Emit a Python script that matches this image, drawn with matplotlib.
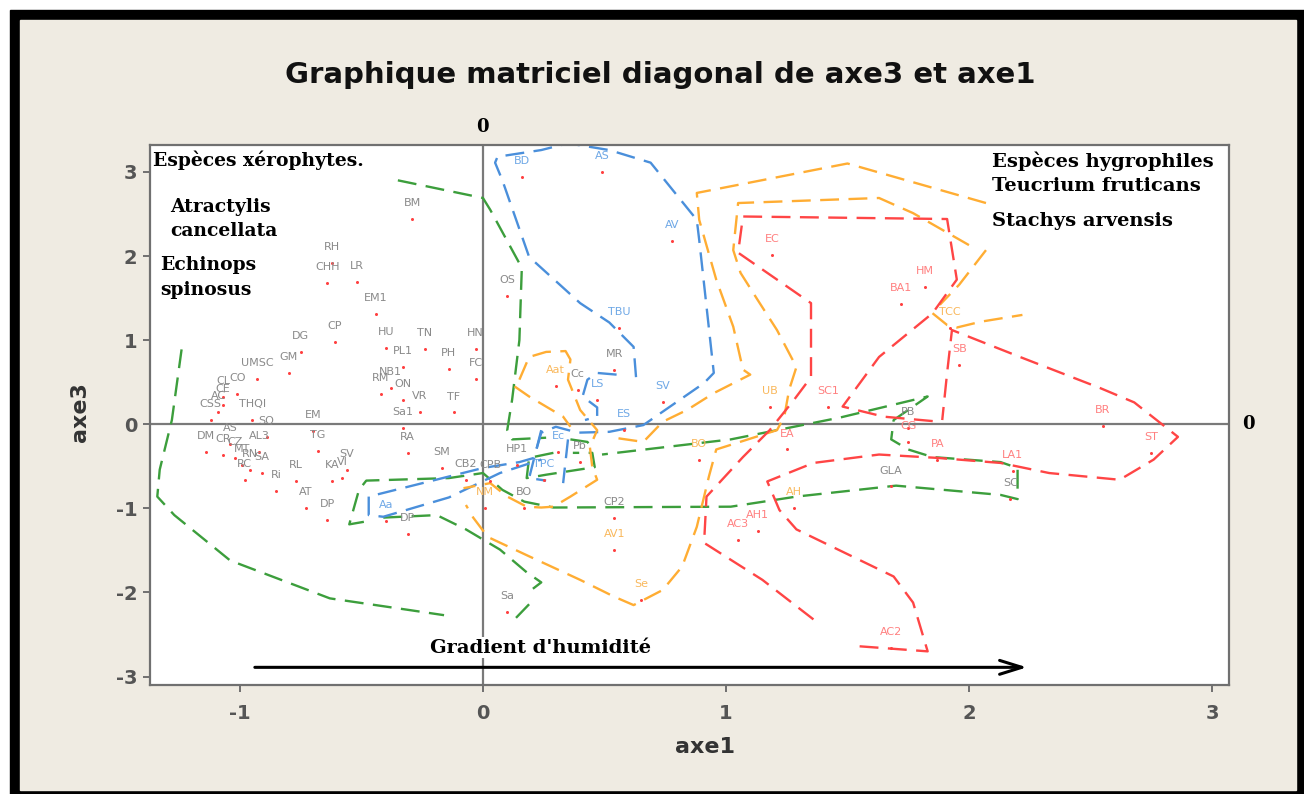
import matplotlib
matplotlib.use("Agg")
import matplotlib.pyplot as plt
from matplotlib.patches import Rectangle

plt.rcParams["axes.unicode_minus"] = False

# ---- points (axe1, axe3), one list per group ----
grey_lab = ["BM", "RH", "CHH", "LR", "EM1", "CP", "DG", "GM", "UMSC", "CO",
            "HU", "PL1", "TN", "HN", "PH", "FC", "NB1", "RM", "ON", "VR", "TF",
            "Sa1", "EM", "THQI", "TG", "SV", "KA", "VI", "RA", "SM", "CB2", "CPB",
            "RL", "Ri", "AT", "DP", "DP", "Sa", "OS", "MR", "Cc", "HP1", "Pb",
            "BO", "CP2", "GLA", "SC", "PB", "AL3", "SQ",
            "CL", "CE", "AC", "CSS", "DM", "CR", "CZ", "MT", "RN", "SA", "RC", "AS"]
grey_x = [-0.29, -0.62, -0.64, -0.52, -0.44, -0.61, -0.75, -0.80, -0.93, -1.01,
          -0.40, -0.33, -0.24, -0.03, -0.14, -0.03, -0.38, -0.42, -0.33, -0.26, -0.12,
          -0.33, -0.70, -0.95, -0.68, -0.56, -0.62, -0.58, -0.31, -0.17, -0.07, 0.03,
          -0.77, -0.85, -0.73, -0.64, -0.31, 0.10, 0.10, 0.54, 0.39, 0.14, 0.40,
          0.17, 0.54, 1.68, 2.17, 1.75, -0.92, -0.89,
          -1.07, -1.07, -1.09, -1.12, -1.14, -1.07, -1.02, -0.99, -0.96, -0.91, -0.98, -1.04]
grey_y = [2.44, 1.92, 1.68, 1.69, 1.31, 0.98, 0.86, 0.61, 0.54, 0.36,
          0.91, 0.68, 0.90, 0.90, 0.66, 0.54, 0.43, 0.36, 0.29, 0.15, 0.14,
          -0.04, -0.08, 0.05, -0.32, -0.54, -0.67, -0.64, -0.34, -0.52, -0.66, -0.68,
          -0.67, -0.79, -0.99, -1.14, -1.30, -2.23, 1.52, 0.65, 0.41, -0.49, -0.45,
          -1.00, -1.12, -0.74, -0.89, -0.04, -0.33, -0.15,
          0.32, 0.23, 0.15, 0.05, -0.33, -0.36, -0.40, -0.49, -0.54, -0.58, -0.66, -0.24]

blue_lab = ["BD", "AS", "AV", "TBU", "LS", "SV", "ES", "Ec", "TPC", "Aa"]
blue_x = [0.16, 0.49, 0.78, 0.56, 0.47, 0.74, 0.58, 0.31, 0.25, -0.40]
blue_y = [2.94, 3.00, 2.18, 1.15, 0.29, 0.26, -0.07, -0.33, -0.66, -1.15]

orange_lab = ["Aat", "NM", "BO", "AV1", "Se", "UB", "AH", "TCC"]
orange_x = [0.30, 0.01, 0.89, 0.54, 0.65, 1.18, 1.28, 1.92]
orange_y = [0.45, -1.00, -0.43, -1.50, -2.09, 0.20, -0.99, 1.15]

red_lab = ["EC", "HM", "BA1", "SB", "SC1", "EA", "CG", "PA", "AH1", "AC3",
           "AC2", "BR", "ST", "LA1"]
red_x = [1.19, 1.82, 1.72, 1.96, 1.42, 1.25, 1.75, 1.87, 1.13, 1.05,
         1.68, 2.55, 2.75, 2.18]
red_y = [2.01, 1.63, 1.43, 0.71, 0.20, -0.30, -0.21, -0.43, -1.27, -1.38,
         -2.66, -0.02, -0.34, -0.55]

# ---- hand drawn dashed outlines (axe1, axe3) ----
green_lines = [
    [(-1.24, 0.89), (-1.28, 0.05), (-1.33, -0.54), (-1.34, -0.86), (-1.27, -1.08),
     (-1.04, -1.62), (-0.63, -2.07), (-0.30, -2.21), (-0.16, -2.27)],
    [(-0.35, 2.90), (0.00, 2.69), (0.03, 2.55), (0.16, 1.86), (0.15, 1.00),
     (0.12, 0.29), (0.10, -0.07), (0.12, -0.18), (0.26, -0.16)],
    [(-0.49, -1.16), (-0.55, -1.19), (-0.51, -0.78), (-0.48, -0.67), (-0.14, -0.64),
     (0.00, -0.58), (0.08, -0.78), (0.17, -0.92), (0.29, -0.99), (1.02, -0.98),
     (1.29, -0.86), (1.70, -0.73), (2.13, -0.84), (2.20, -0.89), (2.20, -0.52),
     (2.13, -0.45), (1.85, -0.39), (1.75, -0.30), (1.68, -0.18), (1.69, 0.05),
     (1.83, 0.33), (1.47, 0.08), (1.02, -0.18), (0.49, -0.36)],
    [(-0.41, -1.11), (-0.19, -1.08), (-0.07, -1.25), (0.07, -1.49), (0.18, -1.76),
     (0.24, -1.88), (0.19, -1.99)],
    [(0.19, -2.14), (0.13, -2.32)],
    [(0.29, -0.34), (0.19, -0.40), (0.18, -0.64), (0.26, -0.60), (0.46, -0.51),
     (0.45, -0.34), (0.37, -0.34)],
    [(0.36, -0.18), (0.43, -0.21), (0.45, -0.30)],
]
blue_lines = [
    [(0.63, 0.56), (0.62, 0.92), (0.52, 1.21), (0.40, 1.44), (0.19, 1.99), (0.08, 2.90),
     (0.05, 3.11), (0.06, 3.18), (0.24, 3.26), (0.35, 3.34), (0.52, 3.26), (0.69, 3.11),
     (0.88, 2.43), (0.89, 2.19), (0.95, 0.61), (0.91, 0.49), (0.66, -0.01), (0.52, -0.09),
     (0.39, -0.10), (0.30, -0.03), (0.24, -0.10), (0.21, -0.40), (0.15, -0.45),
     (0.00, -0.52), (-0.47, -0.86), (-0.47, -1.08), (-0.41, -1.10), (-0.14, -0.87),
     (0.07, -0.58), (0.24, -0.42)],
    [(0.55, 0.59), (0.47, 0.61), (0.43, 0.53), (0.41, 0.33), (0.47, 0.20), (0.47, 0.09),
     (0.42, 0.05)],
    [(0.24, -0.07), (0.19, -0.64), (0.26, -0.67)],
    [(0.35, -0.18), (0.33, -0.70)],
]
orange_lines = [
    [(2.07, 2.63), (1.50, 3.10), (0.88, 2.75), (0.89, 2.43), (0.96, 1.72), (1.03, 1.16),
     (1.07, 0.65), (1.10, 0.59), (0.95, 0.37), (0.84, 0.17), (0.74, 0.03), (0.66, -0.21),
     (0.54, -0.16)],
    [(2.00, 2.13), (1.77, 2.51), (1.63, 2.69), (1.05, 2.63), (1.03, 2.07), (1.06, 1.80),
     (1.13, 1.48), (1.21, 1.12), (1.29, 0.68), (1.26, 0.41), (1.24, 0.09), (1.21, -0.07),
     (0.96, -0.30), (0.93, -0.62), (0.88, -1.22), (0.82, -1.69), (0.74, -1.97),
     (0.62, -2.15), (0.54, -2.05), (0.40, -1.85), (0.19, -1.57), (0.02, -1.34),
     (-0.04, -1.11), (-0.07, -0.96)],
    [(2.07, 2.07), (1.96, 1.66), (1.88, 1.42)],
    [(1.85, 1.32), (1.91, 1.18), (1.95, 1.15), (2.05, 1.22), (2.22, 1.30)],
    [(0.13, 0.45), (0.19, 0.33), (0.33, 0.09), (0.36, -0.03)],
    [(0.15, 0.53), (0.19, 0.80), (0.26, 0.86), (0.34, 0.87), (0.36, 0.77), (0.35, 0.53),
     (0.40, 0.17), (0.47, -0.07), (0.44, -0.27), (0.45, -0.51), (0.47, -0.66),
     (0.36, -0.86), (0.29, -0.98), (0.24, -0.99), (0.18, -0.98), (0.10, -0.86),
     (0.03, -0.70), (-0.08, -0.76)],
]
red_lines = [
    [(1.36, -2.32), (1.15, -1.85), (0.91, -1.41), (0.92, -0.86), (1.07, -0.39),
     (1.18, -0.07), (1.28, 0.29), (1.35, 0.56), (1.35, 1.44), (1.29, 1.56), (1.05, 2.04),
     (1.07, 2.47), (1.91, 2.44), (1.95, 1.72), (1.85, 1.32), (1.63, 0.80), (1.48, 0.21),
     (1.65, 0.09), (1.88, 0.03)],
    [(1.55, -2.64), (1.83, -2.70), (1.77, -2.12), (1.69, -1.81), (1.44, -1.46),
     (1.29, -1.25), (1.22, -1.02), (1.17, -0.68), (1.36, -0.46), (1.63, -0.36),
     (1.87, -0.40), (2.13, -0.46), (2.33, -0.58), (2.62, -0.66), (2.76, -0.42),
     (2.86, -0.15), (2.68, 0.26), (2.54, 0.43), (2.21, 0.80), (2.00, 1.04),
     (1.93, 1.12), (1.91, 0.61), (1.89, 0.05)],
]

W, H = 1304, 794
fig = plt.figure(figsize=(W / 100, H / 100), dpi=100, facecolor="white")
# black frame and beige panel around the chart
fig.patches.append(Rectangle((10 / W, 0), 1 - 10 / W, 1 - 10 / H,
                             transform=fig.transFigure, color="black", zorder=-3))
fig.patches.append(Rectangle((20 / W, 4 / H), 1276 / W, 770 / H,
                             transform=fig.transFigure, color="#efebe2", zorder=-2))

ax = fig.add_axes([150 / W, 1 - 685 / H, 1079 / W, 540 / H])
ax.set_xlim(-1.37, 3.07)
ax.set_ylim(-3.10, 3.32)

ax.axhline(0, color="#7a7a7a", lw=1.6, zorder=1)
ax.axvline(0, color="#7a7a7a", lw=1.6, zorder=1)

dash = (0, (8, 4))
for lines, col in [(green_lines, "#3c9e3c"), (blue_lines, "#4a8fdb"),
                   (orange_lines, "#ffad33"), (red_lines, "#ff4545")]:
    for pts in lines:
        xs = [p[0] for p in pts]
        ys = [p[1] for p in pts]
        ax.plot(xs, ys, color=col, lw=1.7, ls=dash, zorder=2)

for labs, xs, ys, col in [(grey_lab, grey_x, grey_y, "#8a8a8a"),
                          (blue_lab, blue_x, blue_y, "#6fa8e6"),
                          (orange_lab, orange_x, orange_y, "#f9b85c"),
                          (red_lab, red_x, red_y, "#ff8080")]:
    ax.plot(xs, ys, ls="none", marker="o", ms=2.2, color="#ff4040", mec="none", zorder=3)
    for lab, x, y in zip(labs, xs, ys):
        ax.annotate(lab, (x, y), xytext=(0, 11.5), textcoords="offset points",
                    ha="center", va="center", fontsize=8, color=col, zorder=3)

serif = dict(family="DejaVu Serif", fontweight="bold", color="black")
ax.text(-1.358, 3.14, "Espèces xérophytes.", va="center", ha="left", fontsize=13.5, **serif)
ax.text(-1.288, 2.58, "Atractylis", va="center", ha="left", fontsize=13.5, **serif)
ax.text(-1.288, 2.30, "cancellata", va="center", ha="left", fontsize=13.5, **serif)
ax.text(-1.329, 1.89, "Echinops", va="center", ha="left", fontsize=13.5, **serif)
ax.text(-1.329, 1.60, "spinosus", va="center", ha="left", fontsize=13.5, **serif)
ax.text(2.095, 3.13, "Espèces hygrophiles", va="center", ha="left", fontsize=14, **serif)
ax.text(2.095, 2.83, "Teucrium fruticans", va="center", ha="left", fontsize=14, **serif)
ax.text(2.095, 2.42, "Stachys arvensis", va="center", ha="left", fontsize=14, **serif)
ax.text(-0.218, -2.655, "Gradient d'humidité", va="center", ha="left", zorder=4,
        fontsize=14, bbox=dict(facecolor="white", edgecolor="none", pad=1), **serif)
ax.text(0, 3.53, "0", va="center", ha="center", clip_on=False, fontsize=13, **serif)
ax.text(3.148, 0, "0", va="center", ha="center", clip_on=False, fontsize=13, **serif)

ax.annotate("", xy=(2.25, -2.89), xytext=(-0.95, -2.89),
            arrowprops=dict(arrowstyle="->,head_length=1.6,head_width=0.5",
                            color="black", lw=2.2), zorder=4)

ax.set_xticks([-1, 0, 1, 2, 3])
ax.set_yticks([-3, -2, -1, 0, 1, 2, 3])
ax.tick_params(direction="out", length=5, width=1.3, color="#666666",
               labelcolor="#555555", labelsize=14)
ax.tick_params(axis="x", pad=9)
ax.tick_params(axis="y", pad=4)
for lab in ax.get_xticklabels() + ax.get_yticklabels():
    lab.set_fontweight("bold")
for sp in ax.spines.values():
    sp.set_color("#707070")
    sp.set_linewidth(1.6)

ax.set_xlabel("axe1", fontsize=16, fontweight="bold", color="#333333")
ax.set_ylabel("axe3", fontsize=16, fontweight="bold", color="#333333")
ax.xaxis.set_label_coords(0.514, -0.096)
ax.yaxis.set_label_coords(-0.056, 0.506)

fig.text(0.506, 0.9055, "Graphique matriciel diagonal de axe3 et axe1",
         ha="center", va="center", fontsize=21, fontweight="bold", color="#111111")

fig.savefig("out.png", dpi=100)
